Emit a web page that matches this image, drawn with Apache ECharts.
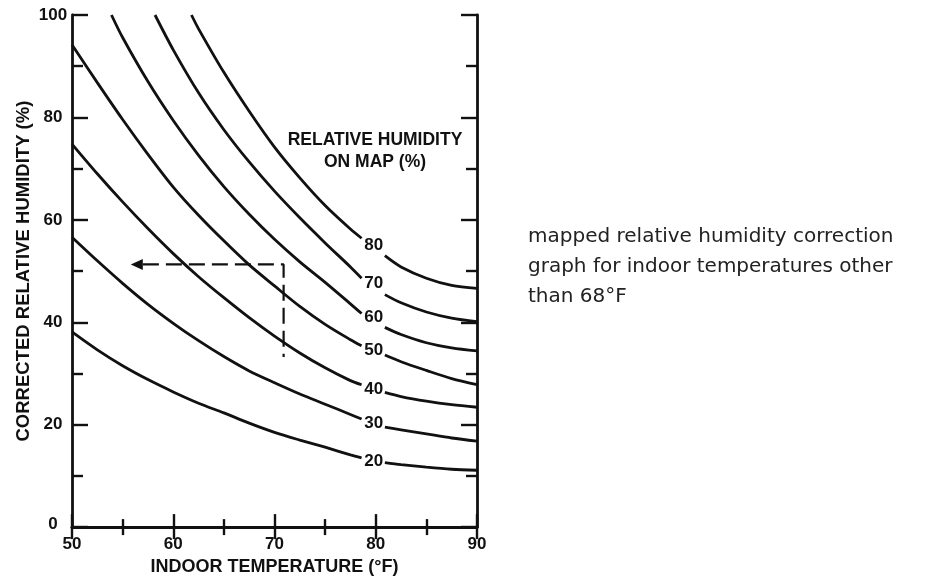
<!DOCTYPE html>
<html>
<head>
<meta charset="utf-8">
<script src="https://cdn.jsdelivr.net/npm/echarts@6/dist/echarts.min.js"></script>
<style>
  html, body { margin: 0; padding: 0; background: #fff; }
  #chart { width: 936px; height: 581px; }
</style>
</head>
<body>
<div id="chart"></div>
<script>
// ---- data ----
const xTicks = [50, 60, 70, 80, 90];
const yTicks = [0, 20, 40, 60, 80, 100];

const curve20 = [[50,38.1],[52.5,34.6],[55,31.5],[57.5,28.8],[60,26.4],[62.5,24.2],[65,22.3],[67.5,20.3],[70,18.5],[72.5,17.0],[75,15.6],[77.5,14.1],[78.6,13.5],[79.7,'-'],[80.9,12.6],[82.5,12.2],[85,11.7],[87.5,11.3],[90,11.1]];
const curve30 = [[50,56.6],[52.5,52.0],[55,47.6],[57.5,43.5],[60,39.8],[62.5,36.4],[65,33.3],[67.5,30.5],[70,28.2],[72.5,26.0],[75,24.0],[77.5,22.0],[78.6,21.1],[79.7,'-'],[80.9,19.5],[82.5,19.0],[85,18.2],[87.5,17.4],[90,16.8]];
const curve40 = [[50,74.8],[52.5,69.0],[55,63.5],[57.5,58.3],[60,53.4],[62.5,48.9],[65,44.8],[67.5,40.9],[70,37.3],[72.5,34.0],[75,31.1],[77.5,28.6],[78.6,27.8],[79.7,'-'],[80.9,26.3],[82.5,25.5],[85,24.6],[87.5,23.9],[90,23.4]];
const curve50 = [[50,94.2],[52.5,86.8],[55,79.6],[57.5,72.8],[60,66.4],[62.5,60.9],[65,55.9],[67.5,51.2],[70,47.1],[72.5,43.1],[75,39.6],[77.5,36.6],[78.6,35.4],[79.7,'-'],[80.9,33.6],[82.5,32.3],[85,30.6],[87.5,29.0],[90,27.8]];
const curve60 = [[53.9,100],[55,95.6],[57.5,87.0],[60,79.4],[62.5,72.6],[65,66.5],[67.5,61.1],[70,56.2],[72.5,51.8],[75,47.8],[77.5,43.6],[78.6,41.7],[79.7,'-'],[80.9,39.0],[82.5,37.6],[85,36.0],[87.5,35.0],[90,34.4]];
const curve70 = [[58.2,100],[60,93.2],[62.5,84.8],[65,77.6],[67.5,71.3],[70,65.6],[72.5,60.4],[75,55.5],[77.5,50.8],[78.6,48.6],[79.7,'-'],[80.9,45.4],[82.5,43.8],[85,42.0],[87.5,40.8],[90,40.1]];
const curve80 = [[61.8,100],[62.5,97.3],[65,88.8],[67.5,81.2],[70,74.2],[72.5,68.2],[75,62.8],[77.5,58.2],[78.6,56.4],[79.7,'-'],[80.9,53.0],[82.5,50.8],[85,48.6],[87.5,47.2],[90,46.6]];

const curveNames = ['80', '70', '60', '50', '40', '30', '20'];
const curveLabelX = 79.8;
const curveLabelY = [55.1, 47.7, 41.0, 34.5, 26.9, 20.2, 12.9];

// dashed example path (temperature / humidity coordinates) and arrow tip
const examplePath = [[57.0, 51.3], [70.9, 51.3], [70.9, 33.2]];
const arrowHead = [56.4, 51.3];

const sideNote = ['mapped relative humidity correction', 'graph for indoor temperatures other', 'than 68°F'];

// ---- chart ----
const INK = '#111';
const FONT = '"Liberation Sans", Arial, Helvetica, sans-serif';
const chart = echarts.init(document.getElementById('chart'), null, { renderer: 'canvas' });

const curves = [curve80, curve70, curve60, curve50, curve40, curve30, curve20];
const curveSeries = curves.map((d, i) => ({
  name: 'RH ' + curveNames[i],
  type: 'line',
  data: d,
  symbol: 'none',
  smooth: 0.3,
  connectNulls: false,
  clip: true,
  lineStyle: { color: '#111', width: 2.8 },
  silent: true,
  z: 3
}));

const labelSeries = {
  type: 'scatter',
  symbolSize: 0,
  data: curveNames.map((n, i) => [curveLabelX, curveLabelY[i], n]),
  label: {
    show: true,
    position: 'inside',
    formatter: p => p.value[2],
    color: INK,
    fontFamily: FONT,
    fontWeight: 'bold',
    fontSize: 17
  },
  itemStyle: { opacity: 1 },
  silent: true,
  z: 5
};

const exampleSeries = {
  type: 'line',
  data: examplePath,
  symbol: 'none',
  lineStyle: { color: '#111', width: 2.2, type: [16, 7] },
  silent: true,
  z: 4,
  markPoint: {
    symbol: 'triangle',
    symbolSize: [11, 12],
    symbolRotate: 90,
    itemStyle: { color: '#111' },
    label: { show: false },
    data: [{ coord: arrowHead }]
  }
};

const axisCommon = {
  type: 'value',
  axisLine: { show: true, lineStyle: { color: '#111', width: 2.8 } },
  splitLine: { show: false },
  minorSplitLine: { show: false }
};

const option = {
  animation: false,
  backgroundColor: '#fff',
  grid: { left: 72, right: 459, top: 15, bottom: 49, containLabel: false },
  xAxis: [
    Object.assign({}, axisCommon, {
      position: 'bottom',
      min: xTicks[0], max: xTicks[xTicks.length - 1], interval: 10,
      axisTick: { show: true, inside: true, length: 13, lineStyle: { color: '#111', width: 2.4 } },
      minorTick: { show: true, splitNumber: 2, length: 8, lineStyle: { color: '#111', width: 2.4 } },
      axisLabel: { show: true, color: INK, fontFamily: FONT, fontWeight: 'bold', fontSize: 17, margin: 9 },
      name: 'INDOOR TEMPERATURE (°F)',
      nameLocation: 'middle',
      nameGap: 30,
      nameTextStyle: { color: INK, fontFamily: FONT, fontWeight: 'bold', fontSize: 18 }
    }),
    Object.assign({}, axisCommon, {
      position: 'top',
      min: xTicks[0], max: xTicks[xTicks.length - 1], interval: 10,
      axisTick: { show: true, inside: true, length: 12, lineStyle: { color: '#111', width: 2.4 } },
      minorTick: { show: true, splitNumber: 2, length: 8, lineStyle: { color: '#111', width: 2.4 } },
      axisLabel: { show: false }
    })
  ],
  yAxis: [
    Object.assign({}, axisCommon, {
      position: 'left',
      min: yTicks[0], max: yTicks[yTicks.length - 1], interval: 20,
      axisTick: { show: true, inside: true, length: 16, lineStyle: { color: '#111', width: 2.4 } },
      minorTick: { show: true, splitNumber: 2, length: 11, lineStyle: { color: '#111', width: 2.4 } },
      axisLabel: {
        show: true, color: INK, fontFamily: FONT, fontWeight: 'bold', fontSize: 17, margin: 19, align: 'center',
        formatter: v => (v === 0 ? '{z|0}' : String(v)),
        rich: { z: { color: INK, fontFamily: FONT, fontWeight: 'bold', fontSize: 17, padding: [0, 0, 5, 0] } }
      },
      name: 'CORRECTED RELATIVE HUMIDITY (%)',
      nameLocation: 'middle',
      nameGap: 39,
      nameTextStyle: { color: INK, fontFamily: FONT, fontWeight: 'bold', fontSize: 18.5 }
    }),
    Object.assign({}, axisCommon, {
      position: 'right',
      min: yTicks[0], max: yTicks[yTicks.length - 1], interval: 20,
      axisTick: { show: true, inside: true, length: 16, lineStyle: { color: '#111', width: 2.4 } },
      minorTick: { show: true, splitNumber: 2, length: 11, lineStyle: { color: '#111', width: 2.4 } },
      axisLabel: { show: false }
    })
  ],
  graphic: [
    {
      type: 'text',
      x: 375, y: 129,
      style: {
        text: 'RELATIVE HUMIDITY\nON MAP (%)',
        fill: INK,
        font: 'bold 17.5px ' + FONT,
        align: 'center',
        verticalAlign: 'top',
        lineHeight: 22
      },
      z: 10
    },
    {
      type: 'text',
      x: 528, y: 222,
      style: {
        text: sideNote.join('\n'),
        fill: '#222',
        font: '20px "DejaVu Sans", "Noto Sans", sans-serif',
        lineHeight: 30,
        verticalAlign: 'top'
      },
      z: 10
    }
  ],
  series: curveSeries.concat([labelSeries, exampleSeries])
};

chart.setOption(option);
</script>
</body>
</html>
